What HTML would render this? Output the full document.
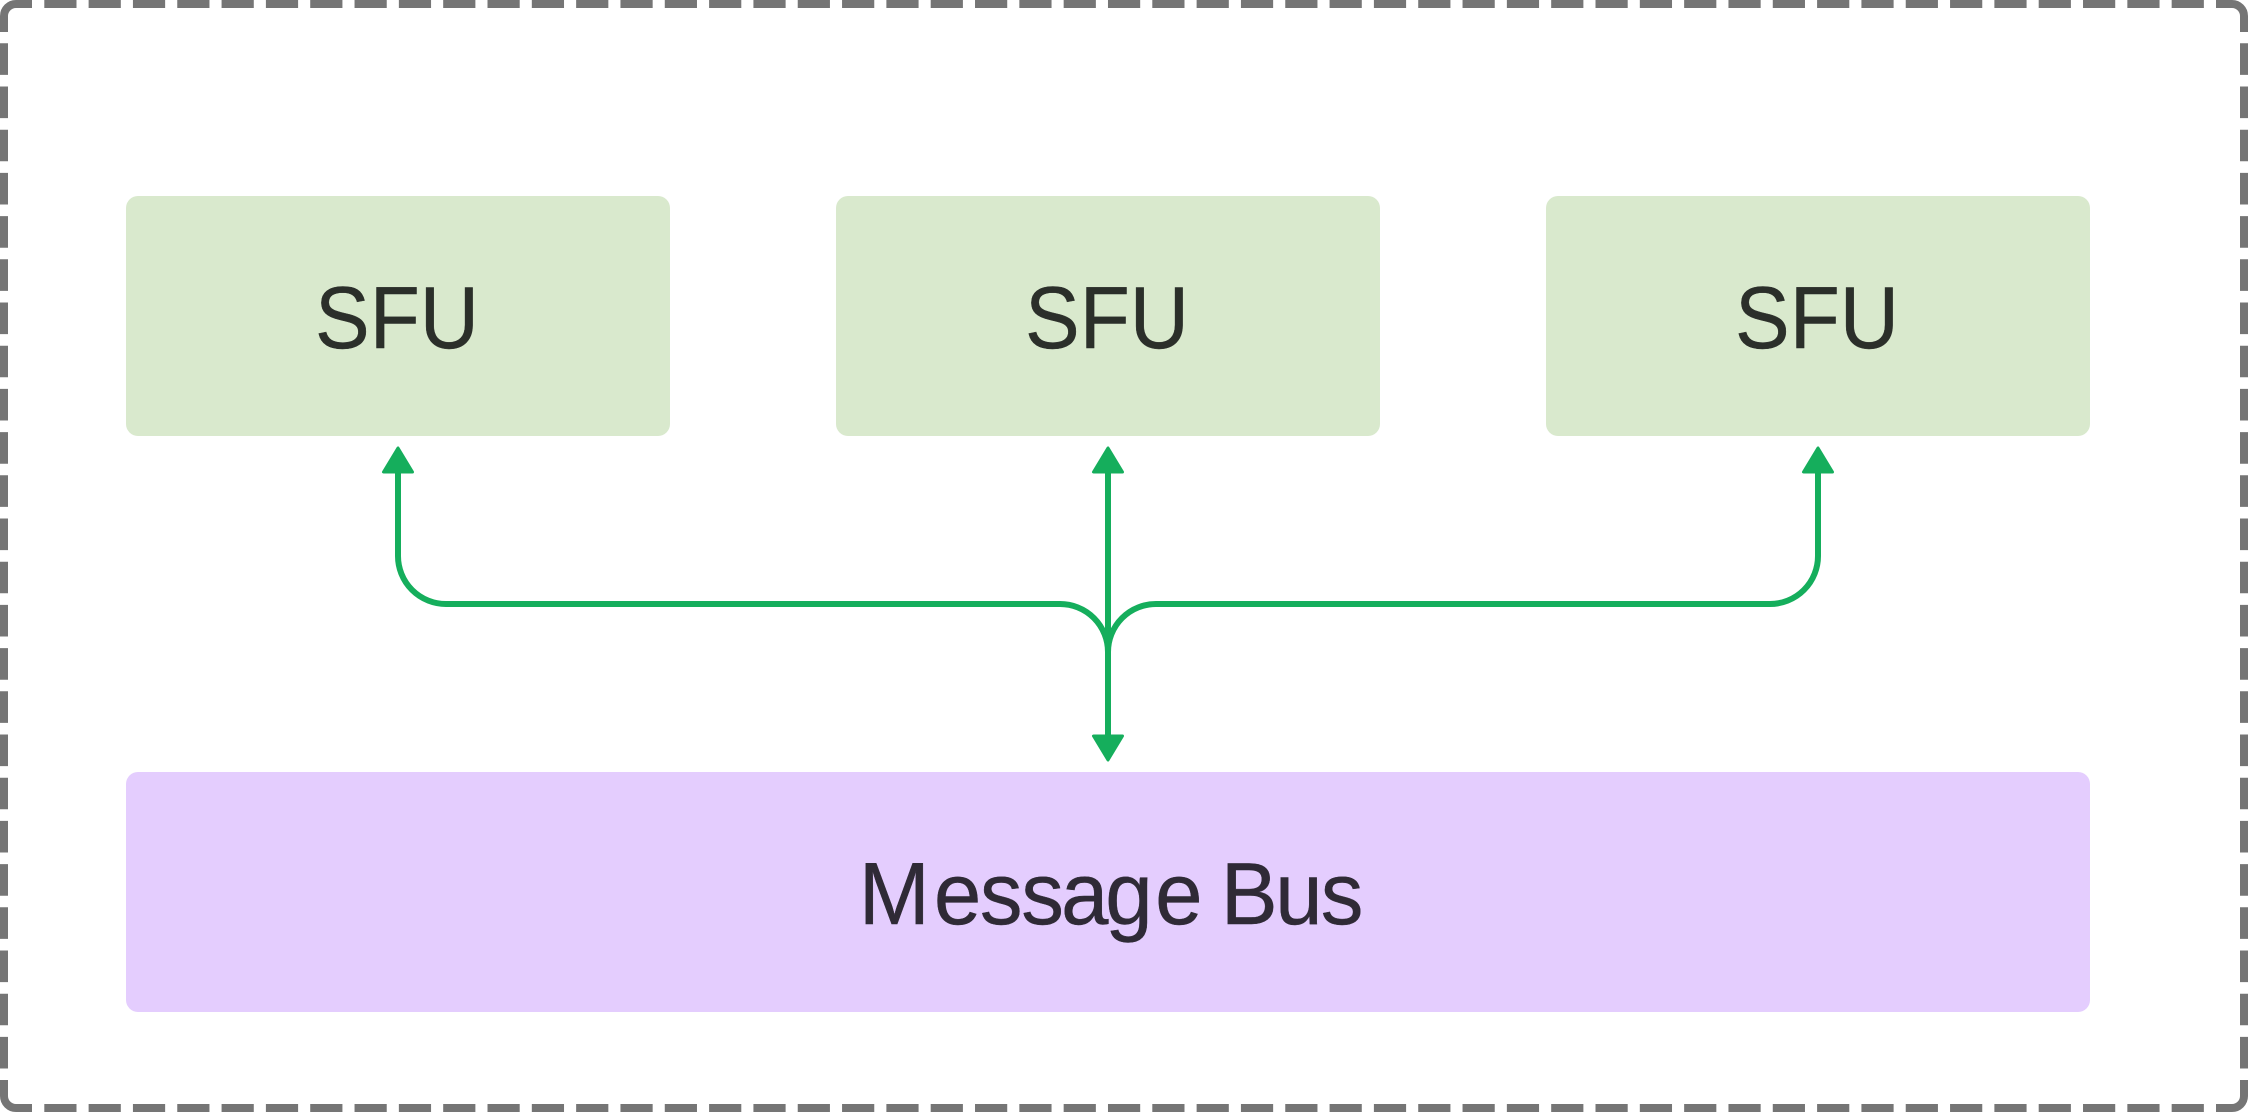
<!DOCTYPE html>
<html><head><meta charset="utf-8"><style>
html,body{margin:0;padding:0;background:#fff;width:2248px;height:1112px;overflow:hidden}
svg{display:block}
text{font-family:"Liberation Sans",sans-serif;font-size:88px}
</style></head><body>
<svg width="2248" height="1112" viewBox="0 0 2248 1112" xmlns="http://www.w3.org/2000/svg">
<rect width="2248" height="1112" fill="#fff"/>
<g fill="none" stroke="#757575" stroke-width="8">
<path d="M4 32V16A12 12 0 0 1 16 4H32"/>
<path d="M2216 4H2232A12 12 0 0 1 2244 16V32"/>
<path d="M4 1080V1096A12 12 0 0 0 16 1108H32"/>
<path d="M2216 1108H2232A12 12 0 0 0 2244 1096V1080"/>
<path d="M44.3 4H2204" stroke-dasharray="32.2 12.12"/>
<path d="M44.3 1108H2204" stroke-dasharray="32.2 12.12"/>
<path d="M4 43.3V1069" stroke-dasharray="31.6 11.6"/>
<path d="M2244 43.3V1069" stroke-dasharray="31.6 11.6"/>
</g>
<g fill="#d9e9cd">
<rect x="126" y="196" width="544" height="240" rx="12"/>
<rect x="836" y="196" width="544" height="240" rx="12"/>
<rect x="1546" y="196" width="544" height="240" rx="12"/>
</g>
<rect x="126" y="772" width="1964" height="240" rx="12" fill="#e4cdfe"/>
<g fill="#2b2f2a" stroke="#2b2f2a" stroke-width="0.4">
<text x="315" y="348" textLength="164" lengthAdjust="spacingAndGlyphs">SFU</text>
<text x="1025" y="348" textLength="164" lengthAdjust="spacingAndGlyphs">SFU</text>
<text x="1735" y="348" textLength="164" lengthAdjust="spacingAndGlyphs">SFU</text>
</g>
<text transform="scale(0.97 1)" x="885.3 962.8 1010.2 1052.9 1093.8 1139.5 1190.8 1237 1258.5 1314.6 1361.6" y="924" fill="#2f2a36" stroke="#2f2a36" stroke-width="0.4">Message Bus</text>
<g fill="none" stroke="#15ae5c" stroke-width="6">
<path d="M398 470V556A48 48 0 0 0 446 604H1060A48 48 0 0 1 1108 652V736"/>
<path d="M1108 470V652"/>
<path d="M1818 470V556A48 48 0 0 1 1770 604H1156A48 48 0 0 0 1108 652"/>
</g>
<g fill="#15ae5c" stroke="#15ae5c" stroke-width="3" stroke-linejoin="round">
<polygon points="398,448 383.5,472 412.5,472"/>
<polygon points="1108,448 1093.5,472 1122.5,472"/>
<polygon points="1818,448 1803.5,472 1832.5,472"/>
<polygon points="1108,760 1093.5,736 1122.5,736"/>
</g>
</svg>
</body></html>
